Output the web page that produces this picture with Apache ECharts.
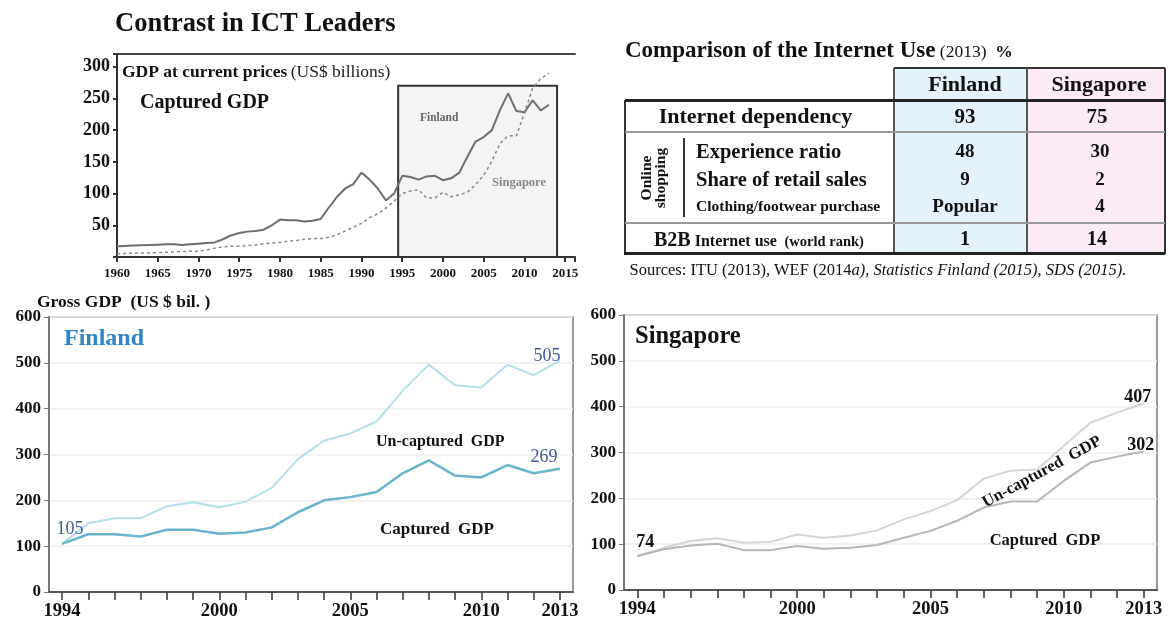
<!DOCTYPE html>
<html>
<head>
<meta charset="utf-8">
<script src="https://cdn.jsdelivr.net/npm/echarts@6.0.0/dist/echarts.min.js"></script>
<style>
  html, body { margin: 0; padding: 0; background: #fff; }
  #wrap { position: relative; width: 1173px; height: 638px; overflow: hidden; font-family: 'Liberation Serif', 'Times New Roman', serif; color: #111; }
  #chart { position: absolute; left: 0; top: 0; width: 1173px; height: 638px; }
  #table { position: absolute; left: 0; top: 0; width: 1173px; height: 638px; pointer-events: none; }
  #table div { position: absolute; white-space: nowrap; }
</style>
</head>
<body>
<div id="wrap">
  <div id="chart"></div>
  <div id="table"></div>
</div>
<script>
  // long run GDP, US$ billions (1960-2013)
  const longYears = [
    1960, 1961, 1962, 1963, 1964, 1965, 1966, 1967, 1968, 1969,
    1970, 1971, 1972, 1973, 1974, 1975, 1976, 1977, 1978, 1979,
    1980, 1981, 1982, 1983, 1984, 1985, 1986, 1987, 1988, 1989,
    1990, 1991, 1992, 1993, 1994, 1995, 1996, 1997, 1998, 1999,
    2000, 2001, 2002, 2003, 2004, 2005, 2006, 2007, 2008, 2009,
    2010, 2011, 2012, 2013,
  ];
  const finlandGdp = [
    17, 17.5, 18, 18.5, 19, 19.5, 20, 20, 19, 20,
    21, 22, 23, 28, 34, 38, 40, 41, 43, 50,
    59, 58, 58, 56, 57, 60, 78, 95, 108, 115,
    133, 122, 108, 89, 100, 128, 126, 122, 127, 128,
    121, 124, 133, 158, 182, 189, 200, 232, 258, 230,
    228, 247, 231, 240,
  ];
  const singaporeGdp = [
    5, 5.5, 6, 6.5, 6.5, 7, 7.5, 8, 8.5, 9,
    9, 11, 14, 16, 17, 17, 18, 19, 21, 22,
    23, 25, 26, 28, 29, 29, 31, 35, 41, 47,
    53, 62, 68, 77, 88, 100, 104, 106, 93, 93,
    102, 95, 98, 102, 114, 129, 151, 179, 191, 191,
    227, 266, 281, 290,
  ];

  // gross GDP split, US$ bil. (1994-2013)
  const years = ['1994', '1995', '1996', '1997', '1998', '1999', '2000', '2001', '2002', '2003',
                 '2004', '2005', '2006', '2007', '2008', '2009', '2010', '2011', '2012', '2013'];
  const shownYears = ['1994', '2000', '2005', '2010', '2013'];
  const finCaptured = [105, 126, 126, 121, 136, 136, 127, 130, 141, 174, 200, 207, 218, 259, 287, 254, 250, 277, 259, 269];
  const finUncaptured = [105, 150, 161, 161, 187, 196, 185, 197, 227, 290, 330, 346, 372, 439, 496, 451, 446, 496, 473, 505];
  const sgCaptured = [74, 89, 97, 101, 87, 87, 96, 90, 92, 98, 114, 129, 151, 180, 193, 193, 238, 278, 291, 302];
  const sgUncaptured = [74, 92, 107, 113, 103, 105, 121, 114, 119, 130, 154, 172, 196, 243, 260, 263, 314, 365, 387, 407];

  // internet use table (2013, %)
  const countries = ['Finland', 'Singapore'];
  const internetDependency = [93, 75];
  const shoppingItems = ['Experience ratio', 'Share of retail sales', 'Clothing/footwear purchase'];
  const shoppingFinland = [48, 9, 'Popular'];
  const shoppingSingapore = [30, 2, 4];
  const b2bRank = [1, 14];

  const serif = "'Liberation Serif', 'Times New Roman', serif";

  // ---------- table (html) ----------
  const tbl = document.getElementById('table');
  function rect(x, y, w, h, css) {
    const d = document.createElement('div');
    d.style.cssText = `left:${x}px;top:${y}px;width:${w}px;height:${h}px;` + css;
    tbl.appendChild(d);
  }
  function txt(html, x, y, css, left) {
    const d = document.createElement('div');
    d.innerHTML = html;
    d.style.cssText = `left:${x}px;top:${y}px;transform:translate(${left ? '0' : '-50%'},-50%);` + css;
    tbl.appendChild(d);
  }

  const L = 625, F = 894, S = 1027, R = 1165;
  const yH = 68, y1 = 100, y2 = 132, y3 = 223, y4 = 253;
  const finX = 965, sgX = 1097;

  rect(F, yH, S - F, y4 - yH, 'background:#e3f3fb');
  rect(S, yH, R - S, y4 - yH, 'background:#fcebf7');
  rect(F, yH - 1, R - F, 2, 'background:#333');
  rect(F - 1, yH, 2, y4 - yH, 'background:#555');
  rect(S - 1, yH, 2, y4 - yH, 'background:#555');
  rect(R - 1, yH, 2, y4 - yH + 1, 'background:#333');
  rect(L, y1 - 1, R - L, 3, 'background:#222');
  rect(L - 1, y1, 2, y4 - y1, 'background:#333');
  rect(L, y2 - 1, R - L, 2, 'background:#9a9a9a');
  rect(L, y3 - 1, R - L, 2, 'background:#9a9a9a');
  rect(L - 1, y4 - 1, R - L + 1, 3, 'background:#222');
  rect(683, y2 + 6, 1.5, y3 - y2 - 12, 'background:#333');

  txt('<b>Comparison of the Internet Use</b><span style="font-size:17.5px"> (2013) </span><b style="font-size:17.5px">&nbsp;%</b>',
      625, 50, 'font-size:23px', true);
  txt('<b>' + countries[0] + '</b>', finX, 84, 'font-size:22px');
  txt('<b>' + countries[1] + '</b>', sgX + 2, 84, 'font-size:22px');

  txt('<b>Internet dependency</b>', (L + F) / 2 - 4, 116, 'font-size:22px');
  txt('<b>' + internetDependency[0] + '</b>', finX, 116, 'font-size:21px');
  txt('<b>' + internetDependency[1] + '</b>', sgX, 116, 'font-size:21px');

  txt('<b>Online<br>shopping</b>', 653, (y2 + y3) / 2,
      'font-size:15.5px;line-height:14px;text-align:center;transform:translate(-50%,-50%) rotate(-90deg)');
  const rowY = [151, 179, 206];
  const rowSize = [20.5, 20.5, 15.5];
  shoppingItems.forEach((name, i) => {
    txt('<b>' + name + '</b>', 696, rowY[i], 'font-size:' + rowSize[i] + 'px', true);
    txt('<b>' + shoppingFinland[i] + '</b>', finX, rowY[i], 'font-size:19px');
    txt('<b>' + shoppingSingapore[i] + '</b>', sgX + 3, rowY[i], 'font-size:19px');
  });

  txt('<b style="font-size:20px">B2B</b> <b style="font-size:16px">Internet use</b> <b style="font-size:14.5px">&nbsp;(world rank)</b>',
      654, 239, '', true);
  txt('<b>' + b2bRank[0] + '</b>', finX, 238, 'font-size:20px');
  txt('<b>' + b2bRank[1] + '</b>', sgX, 238, 'font-size:20px');

  txt('Sources: ITU (2013), WEF (2014<i>a), Statistics Finland (2015), SDS (2015).</i>', 878, 270, 'font-size:16.5px');

  // ---------- charts ----------
  const chart = echarts.init(document.getElementById('chart'));

  const axisFont = { fontFamily: serif, fontWeight: 'bold', color: '#111' };

  // only the first / last points carry a value label
  function endLabels(values, marks) {
    return values.map((v, i) => {
      const m = marks[i];
      if (!m) return v;
      return { value: v, label: Object.assign({ show: true, fontFamily: serif, fontSize: 18 }, m) };
    });
  }

  const finUncapMarks = {};
  finUncapMarks[0] = { position: 'top', offset: [8, -1], color: '#3d5a96' };
  finUncapMarks[finUncaptured.length - 1] = { position: 'top', offset: [-13, 10], color: '#3d5a96' };
  const finCapMarks = {};
  finCapMarks[finCaptured.length - 1] = { position: 'top', offset: [-16, 3], color: '#3d5a96' };
  const sgUncapMarks = {};
  sgUncapMarks[0] = { position: 'top', offset: [8, 0], color: '#111', fontWeight: 'bold' };
  sgUncapMarks[sgUncaptured.length - 1] = { position: 'top', offset: [-6, 8], color: '#111', fontWeight: 'bold' };
  const sgCapMarks = {};
  sgCapMarks[sgCaptured.length - 1] = { position: 'top', offset: [-3, 8], color: '#111', fontWeight: 'bold' };

  const bottomY = (gi) => ({
    gridIndex: gi, type: 'value', min: 0, max: 600, interval: 100,
    axisLine: { show: true, lineStyle: { color: '#777', width: 2 } },
    axisTick: { show: true, length: 5, lineStyle: { color: '#777' } },
    axisLabel: Object.assign({ fontSize: 17, margin: 8 }, axisFont),
    splitLine: { show: true, lineStyle: { color: '#eeeeee', width: 1.5 } },
  });
  const bottomX = (gi) => ({
    gridIndex: gi, type: 'category', data: years, boundaryGap: true,
    axisLine: { lineStyle: { color: '#555', width: 2 } },
    axisTick: { show: true, alignWithLabel: true, interval: 0, length: 8, lineStyle: { color: '#333', width: 1.5 } },
    axisLabel: Object.assign({ fontSize: 18.5, margin: 10, interval: (i, v) => shownYears.includes(v) }, axisFont),
    splitLine: { show: false },
  });

  const dot = { symbol: 'circle', symbolSize: 0.1, showSymbol: true };

  const option = {
    animation: false,
    grid: [
      { left: 117, top: 54, width: 458, height: 203, show: false },
      { left: 49, top: 317, width: 524, height: 275, show: true, borderColor: '#999', borderWidth: 2, backgroundColor: '#fff' },
      { left: 624, top: 315, width: 533, height: 275, show: true, borderColor: '#999', borderWidth: 2, backgroundColor: '#fff' },
    ],
    xAxis: [
      {
        gridIndex: 0, type: 'value', min: 1960, max: 2016.2, interval: 5,
        axisLine: { lineStyle: { color: '#333', width: 2 } },
        axisTick: { show: true, length: 5, lineStyle: { color: '#333', width: 2 } },
        axisLabel: Object.assign({ fontSize: 13, margin: 10, formatter: (v) => (v % 5 === 0 && v <= 2015 ? String(v) : '') }, axisFont),
        splitLine: { show: false },
      },
      {
        gridIndex: 0, type: 'value', position: 'top', min: 1960, max: 2016.2,
        axisLine: { show: true, onZero: false, lineStyle: { color: '#444', width: 2 } },
        axisTick: { show: false }, axisLabel: { show: false }, splitLine: { show: false },
      },
      bottomX(1),
      bottomX(2),
    ],
    yAxis: [
      {
        gridIndex: 0, type: 'value', min: 0, max: 320, interval: 50,
        axisLine: { show: true, lineStyle: { color: '#333', width: 2 } },
        axisTick: { show: true, length: 4, lineStyle: { color: '#333', width: 2 } },
        axisLabel: Object.assign({ fontSize: 18, margin: 7, formatter: (v) => (v > 0 && v % 50 === 0 ? String(v) : '') }, axisFont),
        splitLine: { show: false },
      },
      bottomY(1),
      bottomY(2),
    ],
    graphic: [
      { type: 'text', x: 115, y: 24, style: { text: 'Contrast in ICT Leaders', font: 'bold 26.5px ' + serif, fill: '#111', verticalAlign: 'middle' } },
      {
        type: 'text', x: 122, y: 72, z: 10,
        style: {
          text: '{b|GDP at current prices} {n|(US$ billions)}', verticalAlign: 'middle',
          rich: { b: { font: 'bold 17.5px ' + serif, fill: '#111' }, n: { font: '17.5px ' + serif, fill: '#222' } },
        },
      },
      { type: 'text', x: 140, y: 103, style: { text: 'Captured GDP', font: 'bold 20px ' + serif, fill: '#111', verticalAlign: 'middle' } },
      { type: 'text', x: 420, y: 118, z: 10, style: { text: 'Finland', font: 'bold 11.5px ' + serif, fill: '#666', verticalAlign: 'middle' } },
      { type: 'text', x: 492, y: 183, z: 10, style: { text: 'Singapore', font: 'bold 12.5px ' + serif, fill: '#888', verticalAlign: 'middle' } },

      { type: 'text', x: 37, y: 302, style: { text: 'Gross GDP  (US $ bil. )', font: 'bold 17.5px ' + serif, fill: '#111', verticalAlign: 'middle' } },
      { type: 'text', x: 64, y: 339, z: 10, style: { text: 'Finland', font: 'bold 24px ' + serif, fill: '#2f86c3', verticalAlign: 'middle' } },
      { type: 'text', x: 376, y: 442, z: 10, style: { text: 'Un-captured  GDP', font: 'bold 16px ' + serif, fill: '#111', verticalAlign: 'middle' } },
      { type: 'text', x: 380, y: 530, z: 10, style: { text: 'Captured  GDP', font: 'bold 17px ' + serif, fill: '#111', verticalAlign: 'middle' } },

      { type: 'text', x: 635, y: 337, z: 10, style: { text: 'Singapore', font: 'bold 24.5px ' + serif, fill: '#111', verticalAlign: 'middle' } },
      { type: 'text', x: 1042, y: 472, rotation: 0.5, z: 10, style: { text: 'Un-captured  GDP', font: 'bold 16.5px ' + serif, fill: '#111', align: 'center', verticalAlign: 'middle' } },
      { type: 'text', x: 1045, y: 541, z: 10, style: { text: 'Captured  GDP', font: 'bold 16.5px ' + serif, fill: '#111', align: 'center', verticalAlign: 'middle' } },
    ],
    series: [
      {
        type: 'line', xAxisIndex: 0, yAxisIndex: 0, data: [], z: 1, silent: true,
        markArea: {
          silent: true,
          itemStyle: { color: '#f4f4f4', borderColor: '#333', borderWidth: 2 },
          data: [[{ xAxis: 1994.5, yAxis: 0 }, { xAxis: 2014, yAxis: 270 }]],
        },
      },
      {
        name: 'Finland', type: 'line', xAxisIndex: 0, yAxisIndex: 0, z: 3, symbol: 'none',
        data: longYears.map((y, i) => [y, finlandGdp[i]]),
        lineStyle: { color: '#6e6e6e', width: 2 },
      },
      {
        name: 'Singapore', type: 'line', xAxisIndex: 0, yAxisIndex: 0, z: 3, symbol: 'none',
        data: longYears.map((y, i) => [y, singaporeGdp[i]]),
        lineStyle: { color: '#888', width: 1.5, type: [3, 3] },
      },
      Object.assign({
        name: 'Finland un-captured', type: 'line', xAxisIndex: 2, yAxisIndex: 1,
        data: endLabels(finUncaptured, finUncapMarks),
        itemStyle: { color: '#b5dee9' },
        lineStyle: { color: '#b5dee9', width: 2 },
      }, dot),
      Object.assign({
        name: 'Finland captured', type: 'line', xAxisIndex: 2, yAxisIndex: 1,
        data: endLabels(finCaptured, finCapMarks),
        itemStyle: { color: '#6ab3cf' },
        lineStyle: { color: '#6ab3cf', width: 2.5 },
      }, dot),
      Object.assign({
        name: 'Singapore un-captured', type: 'line', xAxisIndex: 3, yAxisIndex: 2,
        data: endLabels(sgUncaptured, sgUncapMarks),
        itemStyle: { color: '#d4d4d4' },
        lineStyle: { color: '#d4d4d4', width: 2 },
      }, dot),
      Object.assign({
        name: 'Singapore captured', type: 'line', xAxisIndex: 3, yAxisIndex: 2,
        data: endLabels(sgCaptured, sgCapMarks),
        itemStyle: { color: '#b5b5b5' },
        lineStyle: { color: '#b5b5b5', width: 2 },
      }, dot),
    ],
  };

  chart.setOption(option);
  window.addEventListener('resize', () => chart.resize());
</script>
</body>
</html>
